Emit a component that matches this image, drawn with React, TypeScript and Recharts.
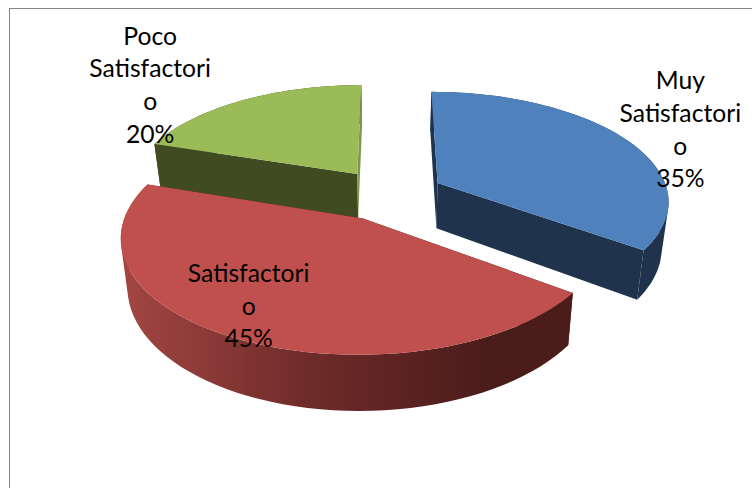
import { PieChart, Pie } from 'recharts';

// drawn back to front, so the order starts at the green slice
const categories = ['Poco Satisfactorio', 'Muy Satisfactorio', 'Satisfactorio'];
const shares = [20, 35, 45];
const topColors = ['#9bbb59', '#4f81bd', '#c0504d'];
const wallColors = ['#414b21', '#1f334d', 'url(#redWall)'];
const endFaceColors = ['#7d9848', '#1f334d', '#4a1c1a'];

const CX = 389;
const CY = 194.5;
const RADIUS = 231;
const SQUASH = 108;
const PERSPECTIVE = 0.15;
const EXPLODE = 0.24;
const DEPTH = 46;
const BOTTOM_SCALE = 0.975;
const LABEL_SHIFT = [
  { dx: -92.5, dy: -16.5 },
  { dx: 56, dy: -10 },
  { dx: 15.5, dy: -33 },
];

const rad = (deg: number) => (deg * Math.PI) / 180;

// ground plane (u right, v to the back, unit radius) to screen
function project(u: number, v: number, bottom = false) {
  const s = 1 / (1 + PERSPECTIVE * v);
  const x = CX + RADIUS * u * s * (bottom ? BOTTOM_SCALE : 1);
  const y = CY - SQUASH * v * s + (bottom ? DEPTH * s : 0);
  return [x, y];
}

function arcPoints(start: number, end: number, mid: number, bottom = false) {
  const ou = EXPLODE * Math.cos(rad(mid));
  const ov = EXPLODE * Math.sin(rad(mid));
  const pts = [];
  for (let i = 0; i <= 60; i++) {
    const a = rad(start + ((end - start) * i) / 60);
    pts.push(project(ou + Math.cos(a), ov + Math.sin(a), bottom));
  }
  return { pts, apex: project(ou, ov, bottom) };
}

const toPath = (pts: number[][]) =>
  'M' + pts.map((p) => `${p[0].toFixed(1)},${p[1].toFixed(1)}`).join('L') + 'Z';

// every quad wound the same way, so one nonzero path is their union with no seams
function wallPath(top: number[][], low: number[][]) {
  let d = '';
  for (let i = 0; i < top.length - 1; i++) {
    const quad = [top[i], top[i + 1], low[i + 1], low[i]];
    let area = 0;
    quad.forEach((p, j) => {
      const q = quad[(j + 1) % 4];
      area += p[0] * q[1] - q[0] * p[1];
    });
    d += toPath(area < 0 ? [...quad].reverse() : quad);
  }
  return d;
}

function Slice(props: any) {
  const { startAngle, endAngle, midAngle, index } = props;
  const top = arcPoints(startAngle, endAngle, midAngle);
  const low = arcPoints(startAngle, endAngle, midAngle, true);
  const wall = wallColors[index];
  const n = top.pts.length - 1;
  return (
    <g>
      <defs>
        <linearGradient id="redWall" gradientUnits="userSpaceOnUse" x1="124" y1="0" x2="490" y2="0">
          <stop offset="0" stopColor="#a24643" />
          <stop offset="0.5" stopColor="#6f2b29" />
          <stop offset="1" stopColor="#4a1c1a" />
        </linearGradient>
      </defs>
      <path d={wallPath(top.pts, low.pts)} fill={wall} fillRule="nonzero" />
      <path d={toPath([top.apex, top.pts[0], low.pts[0], low.apex])} fill={wall} />
      <path d={toPath([top.apex, top.pts[n], low.pts[n], low.apex])} fill={endFaceColors[index]} />
      <path d={toPath([top.apex, ...top.pts])} fill={topColors[index]} />
    </g>
  );
}

// long words break at twelve characters, the way the label box wraps them
function wrap(name: string) {
  return name.split(' ').flatMap((w) => w.match(/.{1,12}/g) ?? []);
}

function SliceLabel(props: any) {
  const { midAngle, index, percent } = props;
  const reach = 1 + EXPLODE;
  const [x, y] = project(reach * Math.cos(rad(midAngle)), reach * Math.sin(rad(midAngle)));
  const lines = [...wrap(categories[index]), `${Math.round(percent * 100)}%`];
  const lineHeight = 32.7;
  const cx = x + LABEL_SHIFT[index].dx;
  const first = y + LABEL_SHIFT[index].dy - ((lines.length - 1) * lineHeight) / 2;
  return (
    <text
      x={cx}
      y={first}
      textAnchor="middle"
      dominantBaseline="central"
      fontFamily="Lato, sans-serif"
      fontSize={24.7}
      fill="#000"
    >
      {lines.map((l, i) => (
        <tspan key={i} x={cx} y={first + i * lineHeight}>{l}</tspan>
      ))}
    </text>
  );
}

const data = categories.map((name, i) => ({ name, value: shares[i] }));

export default function App() {
  return (
    <div style={{ position: 'absolute', left: 0, top: 0, width: 752, height: 488, overflow: 'hidden', background: '#fff' }}>
      <div
        style={{
          position: 'absolute', left: 9, top: 8, width: 760, height: 500,
          border: '1.5px solid #868686', boxSizing: 'border-box',
        }}
      />
      <div style={{ position: 'absolute', left: 0, top: 0 }}>
        <PieChart width={752} height={488} margin={{ top: 0, right: 0, bottom: 0, left: 0 }}>
          <Pie
            data={data}
            dataKey="value"
            nameKey="name"
            cx={CX}
            cy={CY}
            outerRadius={RADIUS}
            startAngle={162}
            endAngle={-198}
            stroke="none"
            shape={Slice}
            label={SliceLabel}
            labelLine={false}
            isAnimationActive={false}
          />
        </PieChart>
      </div>
    </div>
  );
}
